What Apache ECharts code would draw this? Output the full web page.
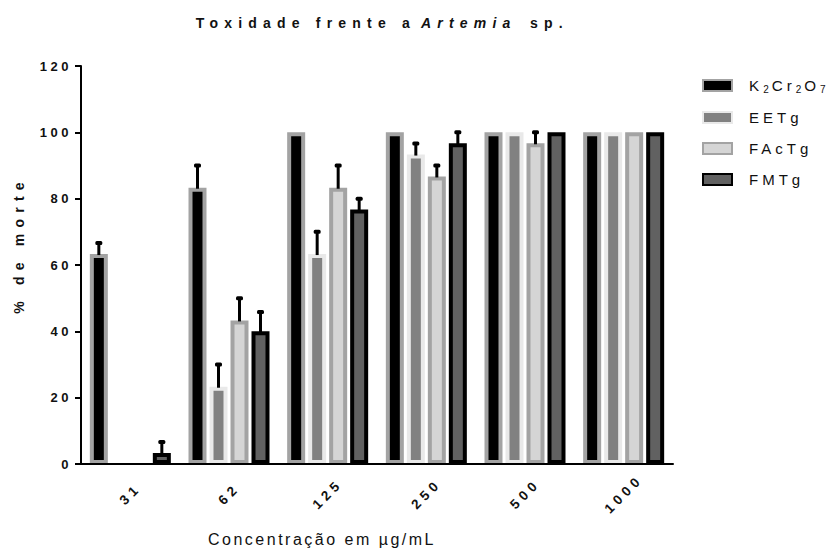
<!DOCTYPE html>
<html>
<head>
<meta charset="utf-8">
<script src="https://cdn.jsdelivr.net/npm/echarts@6/dist/echarts.min.js"></script>
<style>
  html, body { margin: 0; padding: 0; background: #fff; }
  #chart { width: 832px; height: 551px; }
  /* wide tracking, one rule per text size */
  #chart text[style*="14px"] { letter-spacing: 6.2px; }
  #chart text[style*="13px"] { letter-spacing: 3.5px; }
  #chart text[style*="13.5px"] { letter-spacing: 4.5px; }
  #chart text[style*="15px"] { letter-spacing: 4px; }
  #chart text[style*="16px"] { letter-spacing: 2.5px; }
</style>
</head>
<body>
<div id="chart"></div>
<script>
// Concentrations (µg/mL)
const categories = ['31', '62', '125', '250', '500', '1000'];
const seriesNames = ['K2Cr2O7', 'EETg', 'FAcTg', 'FMTg'];

// Mean mortality (%)
const k2cr2o7 = [63.3, 83.3, 100, 100, 100, 100];
const eetg    = [0, 23.3, 63.3, 93.3, 100, 100];
const factg   = [0, 43.3, 83.3, 86.7, 96.7, 100];
const fmtg    = [3.3, 40, 76.7, 96.7, 100, 100];

// Upper error (%)
const k2cr2o7Err = [3.3, 6.7, 0, 0, 0, 0];
const eetgErr    = [0, 6.7, 6.7, 3.3, 0, 0];
const factgErr   = [0, 6.7, 6.7, 3.3, 3.3, 0];
const fmtgErr    = [3.3, 5.8, 3.3, 3.3, 0, 0];

const yTicks = { min: 0, max: 120, interval: 20 };

const values = [k2cr2o7, eetg, factg, fmtg];
const errors = [k2cr2o7Err, eetgErr, factgErr, fmtgErr];

const styles = [
  { color: '#000000', borderColor: '#a3a3a3' },
  { color: '#818181', borderColor: '#e9e9e9' },
  { color: '#d5d5d5', borderColor: '#a3a3a3' },
  { color: '#616161', borderColor: '#000000' }
];

const BAR_W = 18;
const BAR_GAP = 3 / 18;
const BORDER = 4;
const FONT = '"Liberation Sans", Arial, sans-serif';

function barOffset(i) {
  const step = BAR_W * (1 + BAR_GAP);
  return (i - (values.length - 1) / 2) * step;
}

const barSeries = values.map((vals, i) => ({
  name: seriesNames[i],
  type: 'bar',
  barWidth: BAR_W,
  barGap: (BAR_GAP * 100) + '%',
  itemStyle: {
    color: styles[i].color,
    borderColor: styles[i].borderColor,
    borderWidth: BORDER
  },
  z: 2,
  data: vals.map(v => v === 0 ? { value: 0, itemStyle: { borderWidth: 0 } } : v)
}));

const errorSeries = values.map((vals, i) => ({
  name: seriesNames[i],
  type: 'custom',
  z: 4,
  silent: true,
  data: vals.map((v, c) => [c, v, errors[i][c]]),
  renderItem: function (params, api) {
    const e = api.value(2);
    if (!e) return null;
    const v = api.value(1);
    const base = api.coord([api.value(0), v]);
    const top = api.coord([api.value(0), v + e]);
    const x = base[0] + barOffset(i);
    return {
      type: 'group',
      children: [
        { type: 'line', shape: { x1: x, y1: base[1] + 1, x2: x, y2: top[1] },
          style: { stroke: '#000', lineWidth: 3 } },
        { type: 'rect', shape: { x: x - 3.5, y: top[1] - 2, width: 7, height: 4, r: 1.5 },
          style: { fill: '#000' } }
      ]
    };
  }
}));

// K2Cr2O7 with lowered subscripts, spaced token by token
const formulaRich = {
  n: { fontSize: 15.2, color: '#111', fontFamily: FONT, lineHeight: 15, padding: [0, 4, 0, 0] },
  s: { fontSize: 10, color: '#111', fontFamily: FONT, lineHeight: 8, padding: [7, 3, 0, 0] }
};

const chart = echarts.init(document.getElementById('chart'), null, { renderer: 'svg' });

chart.setOption({
  animation: false,
  textStyle: { fontFamily: FONT },
  grid: { left: 81, right: 159, top: 66, bottom: 87, outerBoundsMode: 'none', containLabel: false },
  legend: {
    orient: 'vertical',
    left: 702,
    top: 77,
    padding: 0,
    icon: 'rect',
    itemWidth: 29,
    itemHeight: 11,
    itemGap: 16,
    data: seriesNames,
    textStyle: {
      fontSize: 15, color: '#111', fontFamily: FONT, lineHeight: 15, padding: [0, 0, 0, 12],
      rich: formulaRich
    },
    formatter: function (name) {
      if (name === 'K2Cr2O7') return '{n|K}{s|2}{n|C}{n|r}{s|2}{n|O}{s|7}';
      return name;
    }
  },
  xAxis: {
    type: 'category',
    data: categories,
    z: 5,
    axisLine: { lineStyle: { color: '#000', width: 2 } },
    axisTick: { alignWithLabel: true, length: 6, lineStyle: { color: '#000', width: 2 } },
    axisLabel: { rotate: 45, fontSize: 13.5, fontWeight: 'bold', color: '#111', margin: 30,
                 align: 'center', verticalAlign: 'middle', fontFamily: FONT }
  },
  yAxis: {
    type: 'value',
    min: yTicks.min,
    max: yTicks.max,
    interval: yTicks.interval,
    z: 5,
    splitLine: { show: false },
    axisLine: { show: true, lineStyle: { color: '#000', width: 2 } },
    axisTick: { show: true, length: 6, lineStyle: { color: '#000', width: 2 } },
    axisLabel: { fontSize: 13, fontWeight: 'bold', color: '#111', margin: 9, fontFamily: FONT }
  },
  graphic: [
    { type: 'text', x: 416, y: 23,
      style: { text: 'Toxidade frente a', fontSize: 14, fontWeight: 'bold', fontFamily: FONT,
               fill: '#111', align: 'right', verticalAlign: 'middle' } },
    { type: 'text', x: 421, y: 23,
      style: { text: 'Artemia', fontSize: 14, fontWeight: 'bold', fontStyle: 'italic', fontFamily: FONT,
               fill: '#111', align: 'left', verticalAlign: 'middle' } },
    { type: 'text', x: 530, y: 23,
      style: { text: 'sp.', fontSize: 14, fontWeight: 'bold', fontFamily: FONT,
               fill: '#111', align: 'left', verticalAlign: 'middle' } },
    { type: 'text', x: 19, y: 245, rotation: Math.PI / 2,
      style: { text: '% de morte', fontSize: 14, fontWeight: 'bold', fontFamily: FONT,
               fill: '#111', align: 'center', verticalAlign: 'middle' } },
    { type: 'text', x: 322, y: 539,
      style: { text: 'Concentração em µg/mL', fontSize: 16, fontFamily: FONT,
               fill: '#111', align: 'center', verticalAlign: 'middle' } }
  ],
  series: barSeries.concat(errorSeries)
});
</script>
</body>
</html>
